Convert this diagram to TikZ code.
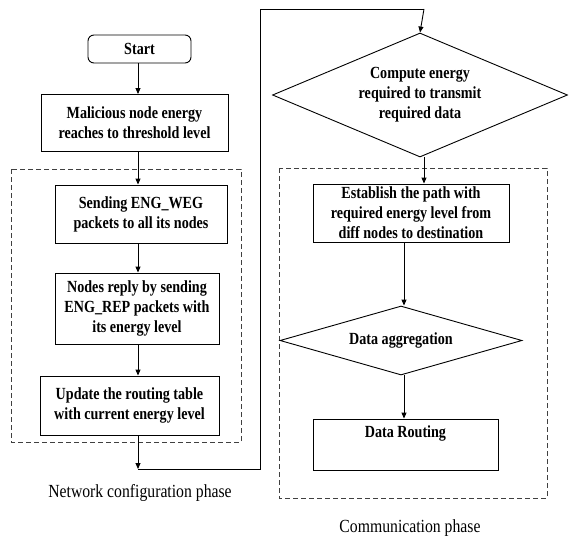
\documentclass[tikz,border=0pt]{standalone}
\usepackage{fontspec}
\setmainfont{Liberation Serif}
\newfontfamily\boxfont[FakeStretch=0.83]{Liberation Serif}
\newfontfamily\capfont[FakeStretch=0.85]{Liberation Serif}
\usetikzlibrary{shapes.geometric,arrows.meta}

\begin{document}
\begin{tikzpicture}[x=1pt,y=-1pt,
  every node/.style={inner sep=0pt},
  boxtext/.style={font=\boxfont\bfseries\fontsize{17}{20}\selectfont, align=center},
  box/.style={draw, line width=0.9pt, boxtext},
  rbox/.style={box, rounded corners=6pt},
  dia/.style={draw, line width=0.9pt, diamond},
  phase/.style={draw=black!75, line width=0.9pt, dash pattern=on 5pt off 3pt},
  caption/.style={font=\capfont\fontsize{18.5}{20}\selectfont},
  arr/.style={line width=0.9pt, -{Triangle[length=6pt,width=5pt]}},
  wire/.style={line width=0.9pt}
]
\useasboundingbox (0,0) rectangle (573,538);

% phase frames
\draw[phase] (11,169) rectangle (241,442);
\draw[phase] (279,168) rectangle (547,498);

% network configuration column
\coordinate (ax) at (138,0);
\node[rbox, minimum width=103pt, minimum height=28pt] (start) at (139.5,49) {Start};
\node[box, minimum width=187pt, minimum height=57pt] (mal) at (134.5,123)
  {Malicious node energy\\reaches to threshold level};
\node[box, minimum width=172pt, minimum height=58pt] (send) at (141,214)
  {Sending ENG\_WEG\\packets to all its nodes};
\node[box, minimum width=164pt, minimum height=71pt] (reply) at (137,308.5)
  {Nodes reply by sending\\ENG\_REP packets with\\its energy level};
\node[box, minimum width=179pt, minimum height=59pt] (upd) at (129.5,405.5)
  {Update the routing table\\with current energy level};

\draw[arr] (start.south -| ax) -- (mal.north -| ax);
\draw[arr] (mal.south -| ax) -- (send.north -| ax);
\draw[arr] (send.south -| ax) -- (reply.north -| ax);
\draw[arr] (reply.south -| ax) -- (upd.north -| ax);

% hand-over to communication phase
\coordinate (c1) at (138,469);
\coordinate (c2) at (260,469);
\coordinate (c3) at (260,9);
\coordinate (bx) at (424,0);
\draw[arr] (upd.south -| c1) -- (c1);

% communication column
\node[dia, minimum width=295pt, minimum height=124pt] (comp) at (420,95) {};
\node[boxtext] at (comp) {Compute energy\\required to transmit\\required data};
\draw[wire] (c1) -- (c2) -- (c3) -- (c3 -| bx);
\draw[arr] (c3 -| bx) -- (comp.north);

\node[box, minimum width=196pt, minimum height=58pt] (est) at (411,213)
  {Establish the path with\\required energy level from\\diff nodes to destination};
\draw[arr] (comp.south -| bx) -- (est.north -| bx);

\coordinate (cx) at (404,0);
\node[dia, minimum width=242pt, minimum height=69pt] (agg) at (401,340.5) {};
\node[boxtext] at (agg) {Data aggregation};
\draw[arr] (est.south -| cx) -- (agg.north -| cx);

\node[draw, line width=0.9pt, minimum width=185pt, minimum height=51pt] (rout) at (405.5,444.5) {};
\node[boxtext] at (405.5,433) {Data Routing};
\draw[arr] (agg.south -| cx) -- (rout.north -| cx);

% phase captions
\node[caption] (netcap) at (140,493) {Network configuration phase};
\node[caption] (comcap) at (410,528) {Communication phase};
\end{tikzpicture}
\end{document}
